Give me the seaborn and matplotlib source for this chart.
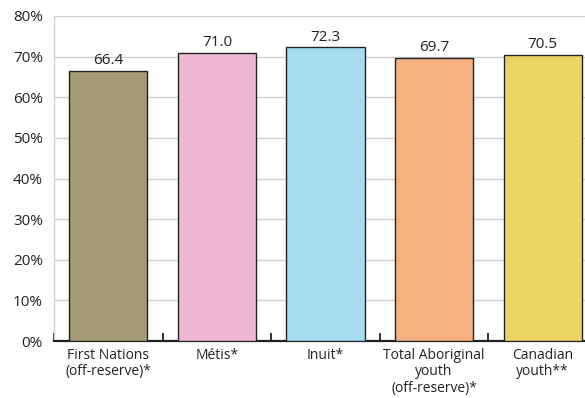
import pandas as pd
import matplotlib.pyplot as plt
import seaborn as sns

categories = ['First Nations\n(off-reserve)*', 'Métis*', 'Inuit*',
              'Total Aboriginal\nyouth\n(off-reserve)*', 'Canadian\nyouth**']
values = [66.4, 71.0, 72.3, 69.7, 70.5]
colors = ['#a59a74', '#eeb8d5', '#a6dcef', '#f9b27f', '#ecd363']
yticks = [0, 10, 20, 30, 40, 50, 60, 70, 80]

sns.set_theme(style="white")
plt.rcParams['font.family'] = ['Open Sans', 'DejaVu Sans']

df = pd.DataFrame({'Group': categories, 'Value': values})

fig = plt.figure(figsize=(5.85, 3.98), dpi=100)
ax = fig.add_axes([0.0923, 0.1432, 0.928, 0.8166])

sns.barplot(data=df, x='Group', y='Value', hue='Group', palette=colors,
            saturation=1, edgecolor='#222222', linewidth=1.0, width=0.72,
            legend=False, ax=ax, zorder=3)

ax.set_xlim(-0.5, 4.5)
ax.set_ylim(0, 80)
ax.set_yticks(yticks)
ax.set_yticklabels([f'{t}%' for t in yticks], fontsize=11, color='#222222')
ax.yaxis.grid(True, color='#cfcfd4', linewidth=1.0, zorder=0)
ax.set_axisbelow(True)
ax.tick_params(axis='y', length=0, pad=8)
ax.tick_params(axis='x', which='major', bottom=True, length=0, pad=5,
               labelsize=10, labelcolor='#222222')
for lbl in ax.get_xticklabels():
    lbl.set_linespacing(1.12)
ax.set_xticks([-0.5, 0.5, 1.5, 2.5, 3.5], minor=True)
ax.tick_params(axis='x', which='minor', bottom=True, direction='in',
               length=6, width=1.3, color='#222222')
ax.set_xlabel('')
ax.set_ylabel('')

for s in ['top', 'right']:
    ax.spines[s].set_visible(False)
ax.spines['left'].set_color('#cfcfd4')
ax.spines['left'].set_linewidth(1.0)
ax.spines['bottom'].set_color('#222222')
ax.spines['bottom'].set_linewidth(1.6)

for i, v in enumerate(values):
    ax.annotate(f'{v:.1f}', (i, v), xytext=(0, 2), textcoords='offset points',
                ha='center', va='bottom', fontsize=11, color='#222222')

fig.savefig('out.png', dpi=100)
